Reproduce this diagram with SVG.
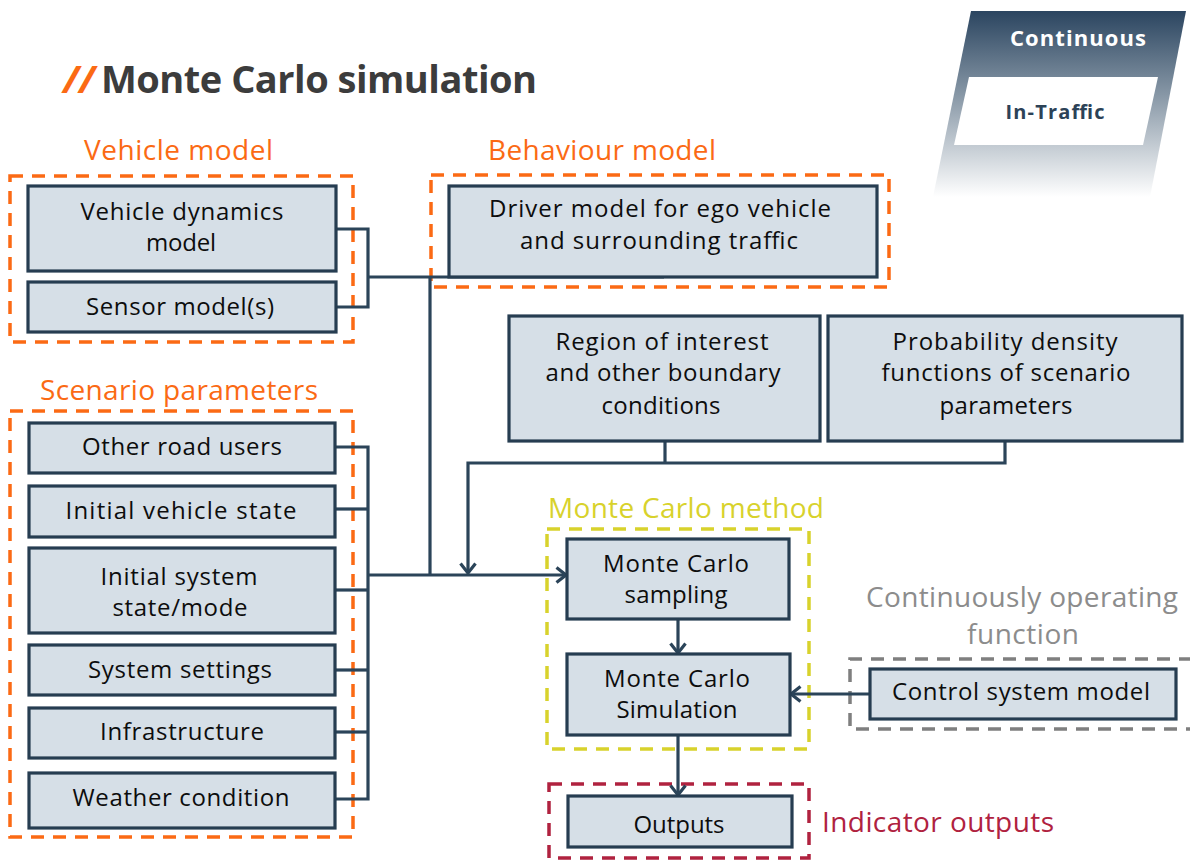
<svg xmlns="http://www.w3.org/2000/svg" width="1190" height="861" viewBox="0 0 1190 861">
  <style>
    .box { fill: #d6dfe7; stroke: #263d51; stroke-width: 3.2; }
    .t { font-family: "Open Sans", "Liberation Sans", sans-serif; font-size: 24px; fill: #0d0d0d; text-anchor: middle; }
    .lbl { font-family: "Open Sans", "Liberation Sans", sans-serif; font-size: 28px; }
    .orange { fill: #fb6a14; }
    .dash-o { fill: none; stroke: #fb6a14; stroke-width: 3.5; stroke-dasharray: 13 9; }
    .dash-y { fill: none; stroke: #d8d22c; stroke-width: 3.5; stroke-dasharray: 13 9; }
    .dash-r { fill: none; stroke: #b0223f; stroke-width: 3.5; stroke-dasharray: 13 9; }
    .dash-g { fill: none; stroke: #7f7f7f; stroke-width: 3.5; stroke-dasharray: 13 9; }
    .wire { fill: none; stroke: #2b4459; stroke-width: 3.2; }
  </style>
  <defs>
    <linearGradient id="badgeFade" x1="0" y1="0" x2="0" y2="1">
      <stop offset="0" stop-color="#2b4560"/>
      <stop offset="0.45" stop-color="#8797a6"/>
      <stop offset="1" stop-color="#ffffff"/>
    </linearGradient>
    <marker id="arrow" markerUnits="userSpaceOnUse" viewBox="0 0 13 18" markerWidth="13" markerHeight="18" refX="11" refY="9" orient="auto">
      <path d="M1.5,1.5 L11,9 L1.5,16.5" fill="none" stroke="#2b4459" stroke-width="3.2"/>
    </marker>
  </defs>

  <!-- title -->
  <g id="title">
    <text x="63" y="93" font-family="Open Sans, Liberation Sans, sans-serif" font-size="38" font-weight="bold" fill="#fb6a14" font-style="italic">//</text>
    <text x="101" y="93" font-family="Open Sans, Liberation Sans, sans-serif" font-size="38" font-weight="bold" fill="#3c3c3c" textLength="436">Monte Carlo simulation</text>
  </g>

  <!-- top-right badge -->
  <g id="badge">
    <polygon points="971,11 1186,11 1150,197 933,197" fill="url(#badgeFade)"/>
    <polygon points="969,77 1158,77 1143,145 954,145" fill="#ffffff"/>
    <text x="1078" y="46" font-family="Open Sans, Liberation Sans, sans-serif" font-size="22" font-weight="bold" fill="#ffffff" text-anchor="middle" textLength="136">Continuous</text>
    <text x="1055" y="119" font-family="Open Sans, Liberation Sans, sans-serif" font-size="20" font-weight="bold" fill="#2c4257" text-anchor="middle" textLength="99">In-Traffic</text>
  </g>

  <!-- group frames and headings -->
  <g id="vehicle-model">
    <text class="lbl orange" x="84" y="160" textLength="189">Vehicle model</text>
    <rect class="dash-o" x="10" y="176" width="343" height="166"/>
  </g>
  <g id="behaviour-model">
    <text class="lbl orange" x="488" y="160" textLength="228">Behaviour model</text>
    <rect class="dash-o" x="431" y="175" width="458" height="112"/>
  </g>
  <g id="scenario-parameters">
    <text class="lbl orange" x="40" y="400" textLength="278">Scenario parameters</text>
    <rect class="dash-o" x="10" y="411" width="343" height="426"/>
  </g>
  <g id="monte-carlo-method">
    <text class="lbl" x="548" y="518" fill="#d8d22c" textLength="276">Monte Carlo method</text>
    <rect class="dash-y" x="547" y="529" width="262" height="220"/>
  </g>
  <g id="continuous-function">
    <text class="lbl" x="1022" y="607" fill="#8c8c8c" text-anchor="middle" textLength="312">Continuously operating</text>
    <text class="lbl" x="1023" y="644" fill="#8c8c8c" text-anchor="middle" textLength="112">function</text>
    <path class="dash-g" d="M1192,659 H850 V729 H1192"/>
  </g>
  <g id="indicator-outputs">
    <text class="lbl" x="822" y="832" fill="#b0223f" textLength="232">Indicator outputs</text>
    <rect class="dash-r" x="549" y="784" width="260" height="74"/>
  </g>

  <!-- connectors -->
  <g id="connectors">
    <path class="wire" d="M336,229 H368 V307 H336"/>
    <path class="wire" d="M368,277 H664"/>
    <path class="wire" d="M430,277 V575"/>
    <path class="wire" d="M336,447 H368 V799 H336"/>
    <path class="wire" d="M336,509 H368"/>
    <path class="wire" d="M336,590 H368"/>
    <path class="wire" d="M336,670 H368"/>
    <path class="wire" d="M336,732 H368"/>
    <path class="wire" d="M368,575 H566" marker-end="url(#arrow)"/>
    <path class="wire" d="M665,441 V463"/>
    <path class="wire" d="M1005,441 V463 H468 V573" marker-end="url(#arrow)"/>
    <path class="wire" d="M678,619 V653" marker-end="url(#arrow)"/>
    <path class="wire" d="M678,735 V795" marker-end="url(#arrow)"/>
    <path class="wire" d="M870,694 H791" marker-end="url(#arrow)"/>
  </g>

  <!-- nodes -->
  <g id="vehicle-dynamics">
    <rect class="box" x="28" y="186" width="308" height="85"/>
    <text class="t" x="182" y="220" textLength="203">Vehicle dynamics</text>
    <text class="t" x="181" y="251" textLength="70">model</text>
  </g>
  <g id="sensor-models">
    <rect class="box" x="28" y="282" width="308" height="50"/>
    <text class="t" x="180" y="315" textLength="188">Sensor model(s)</text>
  </g>
  <g id="driver-model">
    <rect class="box" x="449" y="186" width="428" height="91"/>
    <text class="t" x="660" y="217" textLength="342">Driver model for ego vehicle</text>
    <text class="t" x="659" y="249" textLength="278">and surrounding traffic</text>
  </g>
  <g id="region-of-interest">
    <rect class="box" x="509" y="316" width="311" height="125"/>
    <text class="t" x="662" y="350" textLength="213">Region of interest</text>
    <text class="t" x="663" y="381" textLength="235">and other boundary</text>
    <text class="t" x="661" y="414" textLength="119">conditions</text>
  </g>
  <g id="probability-density">
    <rect class="box" x="828" y="316" width="354" height="125"/>
    <text class="t" x="1005" y="350" textLength="225">Probability density</text>
    <text class="t" x="1006" y="381" textLength="249">functions of scenario</text>
    <text class="t" x="1006" y="414" textLength="133">parameters</text>
  </g>
  <g id="other-road-users">
    <rect class="box" x="29" y="423" width="306" height="50"/>
    <text class="t" x="182" y="455" textLength="200">Other road users</text>
  </g>
  <g id="initial-vehicle-state">
    <rect class="box" x="29" y="486" width="306" height="51"/>
    <text class="t" x="181" y="519" textLength="231">Initial vehicle state</text>
  </g>
  <g id="initial-system-state">
    <rect class="box" x="29" y="548" width="306" height="85"/>
    <text class="t" x="179" y="585" textLength="157">Initial system</text>
    <text class="t" x="180" y="616" textLength="135">state/mode</text>
  </g>
  <g id="system-settings">
    <rect class="box" x="29" y="645" width="306" height="50"/>
    <text class="t" x="180" y="678" textLength="184">System settings</text>
  </g>
  <g id="infrastructure">
    <rect class="box" x="29" y="708" width="306" height="50"/>
    <text class="t" x="182" y="740" textLength="164">Infrastructure</text>
  </g>
  <g id="weather-condition">
    <rect class="box" x="29" y="773" width="306" height="55"/>
    <text class="t" x="181" y="806" textLength="217">Weather condition</text>
  </g>
  <g id="mc-sampling">
    <rect class="box" x="567" y="539" width="222" height="80"/>
    <text class="t" x="676" y="572" textLength="146">Monte Carlo</text>
    <text class="t" x="676" y="603" textLength="103">sampling</text>
  </g>
  <g id="mc-simulation">
    <rect class="box" x="567" y="654" width="223" height="81"/>
    <text class="t" x="677" y="687" textLength="146">Monte Carlo</text>
    <text class="t" x="677" y="718" textLength="121">Simulation</text>
  </g>
  <g id="outputs">
    <rect class="box" x="568" y="796" width="224" height="51"/>
    <text class="t" x="679" y="833" textLength="91">Outputs</text>
  </g>
  <g id="control-system">
    <rect class="box" x="870" y="669" width="306" height="50"/>
    <text class="t" x="1021" y="700" textLength="258">Control system model</text>
  </g>
</svg>
